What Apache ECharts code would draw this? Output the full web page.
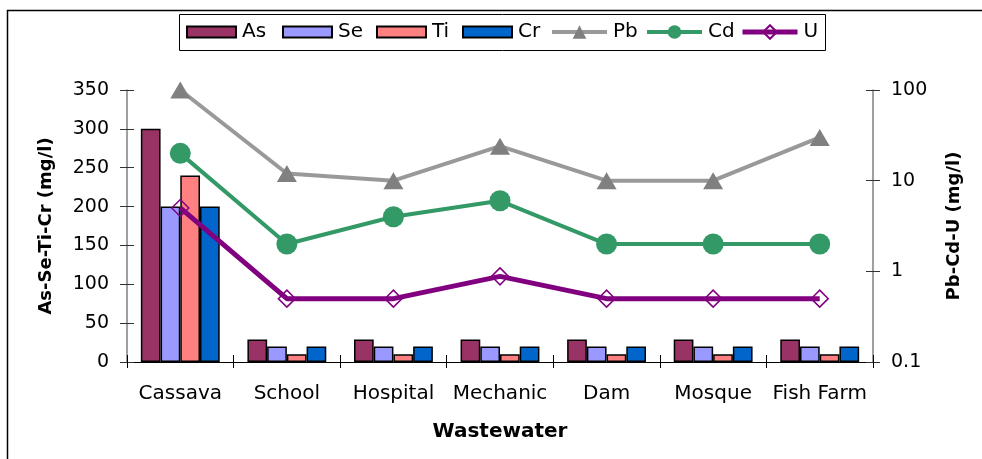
<!DOCTYPE html>
<html>
<head>
<meta charset="utf-8">
<script src="https://cdn.jsdelivr.net/npm/echarts@6/dist/echarts.min.js"></script>
<style>
  html, body { margin: 0; padding: 0; background: #fff; }
  #chart { width: 982px; height: 459px; }
</style>
</head>
<body>
<div id="chart"></div>
<script>
// Sampling sites
const categories = ['Cassava', 'School', 'Hospital', 'Mechanic', 'Dam', 'Mosque', 'Fish Farm'];

// Concentrations on the left (linear) axis, mg/l
const asValues = [300, 29, 29, 29, 29, 29, 29];
const seValues = [200, 20, 20, 20, 20, 20, 20];
const tiValues = [240, 10, 10, 10, 10, 10, 10];
const crValues = [200, 20, 20, 20, 20, 20, 20];

// Concentrations on the right (log) axis, mg/l
const pbValues = [100, 12, 10, 24, 10, 10, 30];
const cdValues = [20, 2, 4, 6, 2, 2, 2];
const uValues = [5, 0.5, 0.5, 0.88, 0.5, 0.5, 0.5];

// Axis tick settings
const leftTicks = { min: 0, max: 350, interval: 50 };
const rightTicks = { min: 0.1, max: 100 };

const FONT = 'DejaVu Sans';

const COLORS = {
  As: '#993366', Se: '#9999FF', Ti: '#FF8080', Cr: '#0066CC',
  PbMark: '#808080', PbLine: '#999999', Cd: '#339966', U: '#800080'
};

function barSeries(name, data, color) {
  return {
    name: name, type: 'bar', data: data,
    xAxisIndex: 0, yAxisIndex: 0,
    barGap: '0%', barCategoryGap: '26%',
    itemStyle: { color: color, borderColor: '#000', borderWidth: 1.5 },
    emphasis: { disabled: true },
    z: 2
  };
}

const legendText = { fontFamily: FONT, fontSize: 20, color: '#000', padding: [0, 0, 0, 1] };

// One legend block per entry so each key sits at its own spot inside the box
function barKey(name, left) {
  return {
    left: left, top: 22, padding: 0,
    itemWidth: 49, itemHeight: 11, icon: 'rect',
    textStyle: legendText, data: [name]
  };
}
function lineKey(name, left, width, color) {
  return {
    left: left, top: 22, padding: 0,
    itemWidth: 55, itemHeight: 17,
    textStyle: legendText,
    data: [{ name: name, lineStyle: { width: width, color: color } }]
  };
}

const chart = echarts.init(document.getElementById('chart'), null, { renderer: 'canvas' });

chart.setOption({
  animation: false,
  backgroundColor: '#fff',
  textStyle: { fontFamily: FONT },
  graphic: [
    {
      // outer frame
      type: 'polyline', silent: true, z: 100,
      shape: { points: [[7.5, 470], [7.5, 10.5], [990, 10.5]] },
      style: { stroke: '#000', lineWidth: 1.5, fill: null }
    },
    {
      // legend box
      type: 'rect', silent: true, z: 100,
      shape: { x: 179.5, y: 14.5, width: 646, height: 36 },
      style: { stroke: '#000', lineWidth: 1, fill: null }
    }
  ],
  legend: [
    barKey('As', 186),
    barKey('Se', 282),
    barKey('Ti', 376),
    barKey('Cr', 462),
    lineKey('Pb', 550, 4, COLORS.PbLine),
    lineKey('Cd', 645, 4, COLORS.Cd),
    lineKey('U', 740, 5, COLORS.U)
  ],
  grid: { left: 127, right: 109, top: 90, bottom: 97, containLabel: false },
  xAxis: [
    {
      type: 'category', data: categories, position: 'bottom',
      name: 'Wastewater', nameLocation: 'middle', nameGap: 60,
      nameTextStyle: { fontFamily: FONT, fontSize: 20, fontWeight: 'bold', color: '#000' },
      axisLine: { lineStyle: { color: '#000', width: 1 } },
      axisTick: { show: true, inside: false, length: 6, lineStyle: { color: '#000' } },
      axisLabel: { fontFamily: FONT, fontSize: 20, color: '#000', margin: 22, interval: 0 }
    },
    {
      type: 'category', data: categories, position: 'bottom', gridIndex: 0,
      axisLine: { show: false },
      axisTick: { show: true, inside: true, length: 7, lineStyle: { color: '#000' } },
      axisLabel: { show: false }
    }
  ],
  yAxis: [
    {
      type: 'value', position: 'left',
      min: leftTicks.min, max: leftTicks.max, interval: leftTicks.interval,
      name: 'As-Se-Ti-Cr (mg/l)', nameLocation: 'middle', nameGap: 72, nameRotate: 90,
      nameTextStyle: { fontFamily: FONT, fontSize: 18, fontWeight: 'bold', color: '#000' },
      axisLine: { show: true, lineStyle: { color: '#808080', width: 1.5 } },
      axisTick: { show: true, inside: false, length: 7, lineStyle: { color: '#333' } },
      axisLabel: { fontFamily: FONT, fontSize: 19, color: '#000', margin: 18 },
      splitLine: { show: false }
    },
    {
      type: 'log', logBase: 10, position: 'right',
      min: rightTicks.min, max: rightTicks.max,
      name: 'Pb-Cd-U (mg/l)', nameLocation: 'middle', nameGap: 72, nameRotate: 90,
      nameTextStyle: { fontFamily: FONT, fontSize: 18, fontWeight: 'bold', color: '#000' },
      axisLine: { show: true, lineStyle: { color: '#808080', width: 1.5 } },
      axisTick: { show: true, inside: false, length: 7, lineStyle: { color: '#333' } },
      axisLabel: {
        fontFamily: FONT, fontSize: 19, color: '#000', margin: 18,
        formatter: (v) => String(+v.toPrecision(6))
      },
      splitLine: { show: false }
    },
    {
      type: 'value', position: 'left',
      min: leftTicks.min, max: leftTicks.max, interval: leftTicks.interval,
      axisLine: { show: false },
      axisTick: { show: true, inside: true, length: 7, lineStyle: { color: '#333' } },
      axisLabel: { show: false },
      splitLine: { show: false }
    },
    {
      type: 'log', logBase: 10, position: 'right',
      min: rightTicks.min, max: rightTicks.max,
      axisLine: { show: false },
      axisTick: { show: true, inside: true, length: 7, lineStyle: { color: '#333' } },
      axisLabel: { show: false },
      splitLine: { show: false }
    }
  ],
  series: [
    barSeries('As', asValues, COLORS.As),
    barSeries('Se', seValues, COLORS.Se),
    barSeries('Ti', tiValues, COLORS.Ti),
    barSeries('Cr', crValues, COLORS.Cr),
    {
      name: 'Pb', type: 'line', data: pbValues, yAxisIndex: 1,
      symbol: 'triangle', symbolSize: [20, 17],
      itemStyle: { color: COLORS.PbMark },
      lineStyle: { color: COLORS.PbLine, width: 4 },
      emphasis: { disabled: true }, z: 5
    },
    {
      name: 'Cd', type: 'line', data: cdValues, yAxisIndex: 1,
      symbol: 'circle', symbolSize: 21,
      itemStyle: { color: COLORS.Cd },
      lineStyle: { color: COLORS.Cd, width: 4 },
      emphasis: { disabled: true }, z: 5
    },
    {
      name: 'U', type: 'line', data: uValues, yAxisIndex: 1,
      symbol: 'diamond', symbolSize: 17,
      itemStyle: { color: 'rgba(255,255,255,0)', borderColor: COLORS.U, borderWidth: 1.5 },
      lineStyle: { color: COLORS.U, width: 5 },
      emphasis: { disabled: true }, z: 5
    }
  ]
});
</script>
</body>
</html>
